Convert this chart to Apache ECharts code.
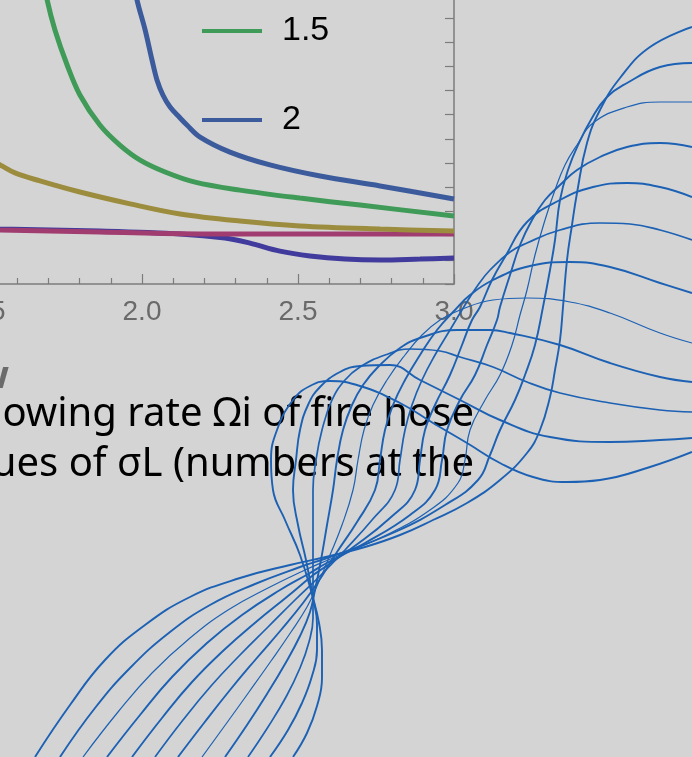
<!DOCTYPE html>
<html><head><meta charset="utf-8">
<script src="https://cdn.jsdelivr.net/npm/echarts@6/dist/echarts.min.js"></script>
<style>html,body{margin:0;padding:0;background:#d4d4d4;overflow:hidden}#c{width:692px;height:757px}</style>
</head><body><div id="c"></div>
<script>
// ---- inset chart data (x = wavenumber-like axis, y = growth rate, arbitrary units) ----
const legendNames = ['0', '0.5', '1', '1.5', '2'];
const seriesColors = ['#403b9c', '#a03c70', '#9c8c3e', '#3f9b57', '#3c5b9c'];
const xTickValues = [1.0, 1.5, 2.0, 2.5, 3.0];

const curve0   = [[1.449,0.231],[1.545,0.227],[1.865,0.219],[2.122,0.207],[2.266,0.190],[2.346,0.169],[2.442,0.136],[2.538,0.116],[2.651,0.103],[2.763,0.099],[2.891,0.103],[3.0,0.107]];
const curve0_5 = [[1.449,0.227],[1.545,0.223],[1.865,0.215],[2.186,0.207],[2.506,0.207],[3.0,0.207]];
const curve1   = [[1.449,0.554],[1.545,0.492],[1.593,0.459],[1.673,0.426],[1.801,0.380],[1.962,0.331],[2.122,0.289],[2.314,0.260],[2.506,0.240],[2.763,0.227],[3.0,0.219]];
const curve1_5 = [[1.686,1.256],[1.696,1.174],[1.721,1.050],[1.760,0.905],[1.801,0.781],[1.865,0.657],[1.929,0.574],[1.994,0.512],[2.074,0.463],[2.170,0.421],[2.314,0.388],[2.506,0.355],[2.699,0.326],[3.0,0.281]];
const curve2   = [[1.974,1.256],[1.984,1.174],[2.010,1.050],[2.032,0.926],[2.048,0.843],[2.067,0.781],[2.090,0.731],[2.122,0.686],[2.144,0.657],[2.186,0.607],[2.282,0.545],[2.410,0.492],[2.571,0.446],[2.763,0.405],[3.0,0.351]];
const chartCurves = [curve0, curve0_5, curve1, curve1_5, curve2];

// ---- caption text ----
const headingTail = 'w';
const captionLines = ['owing rate \u03A9i of fire hose', 'ues of \u03C3L (numbers at the'];

// ---- decorative twisted-hose mesh (page units: 0..692 across, 0..757 down) ----
const hoseA = [[35,757],[70,705],[105,660],[145,625],[190,597],[240,578],[290,565],[330,556],[365,547],[400,535],[433,520],[467,503],[500,480],[527,453],[540,430],[550,397],[555,370],[560,340],[563,307],[567,260],[572,225],[577,193],[587,143],[600,110],[620,78],[650,47],[692,27]];
const hoseB = [[60,757],[95,708],[130,668],[170,632],[210,605],[255,584],[300,567],[330,557],[395,532],[445,505],[478,480],[490,455],[500,430],[515,400],[525,375],[535,345],[543,307],[550,270],[555,240],[560,200],[568,170],[578,145],[592,118],[607,97],[627,83],[660,67],[692,63]];
const hoseC = [[83,757],[118,712],[152,673],[190,638],[228,610],[268,588],[305,570],[328,560],[380,538],[430,510],[458,483],[465,460],[470,430],[485,400],[500,375],[512,345],[520,315],[527,290],[535,255],[545,220],[555,190],[565,165],[577,145],[593,123],[627,107],[660,102],[692,102]];
const hoseD = [[107,757],[140,715],[172,677],[207,643],[242,615],[280,590],[310,573],[325,564],[365,543],[410,515],[435,490],[442,460],[447,430],[460,400],[475,375],[487,345],[497,320],[500,307],[510,275],[520,245],[532,220],[545,200],[560,185],[577,170],[600,157],[627,147],[660,143],[692,147]];
const hoseE = [[132,757],[162,718],[192,682],[224,650],[256,622],[288,596],[312,576],[322,569],[352,548],[390,518],[415,490],[420,460],[425,430],[435,405],[450,375],[462,345],[472,320],[480,307],[492,280],[505,257],[527,222],[560,200],[593,187],[627,183],[660,187],[692,197]];
const hoseF = [[155,757],[183,720],[211,686],[240,655],[268,627],[295,600],[320,576],[345,550],[372,520],[395,490],[400,460],[405,430],[412,405],[422,380],[435,355],[450,330],[465,305],[478,285],[490,270],[510,252],[527,243],[560,230],[600,223],[630,224],[660,230],[692,240]];
const hoseG = [[178,757],[204,723],[230,690],[256,659],[281,630],[303,603],[318,582],[337,552],[357,522],[375,490],[380,460],[385,430],[393,405],[405,380],[420,355],[437,330],[455,310],[470,295],[493,280],[530,266],[570,262],[610,267],[660,283],[692,293]];
const hoseH = [[202,757],[226,724],[249,692],[271,661],[291,632],[307,607],[317,586],[330,555],[342,525],[353,490],[358,460],[364,430],[373,405],[387,380],[405,355],[422,335],[440,320],[460,310],[493,300],[527,298],[570,302],[610,313],[660,333],[692,343]];
const hoseI = [[225,757],[247,725],[267,694],[285,664],[300,636],[310,612],[315,590],[321,560],[327,525],[333,490],[337,460],[343,430],[352,405],[363,385],[378,367],[400,348],[423,337],[457,330],[490,330],[510,333],[560,345],[610,363],[660,377],[692,382]];
const hoseJ = [[248,757],[268,727],[286,697],[300,668],[309,642],[313,618],[313,596],[313,560],[313,525],[313,490],[316,460],[322,430],[332,400],[345,380],[360,367],[385,355],[410,349],[440,351],[460,357],[493,367],[527,382],[560,393],[610,403],[660,410],[692,412]];
const hoseK = [[270,757],[288,730],[302,703],[312,676],[317,650],[317,624],[313,598],[306,560],[298,525],[293,490],[296,460],[300,430],[308,405],[320,387],[340,372],[360,366],[390,365],[420,380],[460,400],[500,420],[550,437],[610,442],[660,440],[692,438]];
const hoseL = [[293,757],[307,733],[317,706],[322,678],[322,650],[319,623],[313,598],[300,555],[285,520],[273,490],[271,460],[277,430],[293,400],[310,386],[330,381],[360,386],[400,403],[433,423],[467,443],[500,463],[533,477],[567,482],[600,480],[650,467],[692,452]];
const hoseCurves = [hoseA, hoseB, hoseC, hoseD, hoseE, hoseF, hoseG, hoseH, hoseI, hoseJ, hoseK, hoseL];
const hoseWidths = [1.9, 1.9, 1.2, 1.9, 1.9, 1.7, 1.9, 1.2, 1.9, 1.7, 1.9, 1.9];

const chart = echarts.init(document.getElementById('c'), null, {renderer: 'canvas'});
const axisGrey = '#7c7c7c';

const series = chartCurves.map((d, i) => ({
  name: legendNames[i], type: 'line', data: d, xAxisIndex: 0, yAxisIndex: 0,
  smooth: 0.35, showSymbol: false, symbol: 'none',
  lineStyle: {width: 5, color: seriesColors[i]}, itemStyle: {color: seriesColors[i]}, z: 3
}));
hoseCurves.forEach((d, i) => series.push({
  type: 'line', data: d, xAxisIndex: 1, yAxisIndex: 1, smooth: 0.45,
  showSymbol: false, symbol: 'none', silent: true, clip: false,
  lineStyle: {width: hoseWidths[i], color: '#1c61b4'}, z: 20
}));

chart.setOption({
  backgroundColor: '#d4d4d4',
  animation: false,
  grid: [
    {left: -170, right: 238, top: -200, bottom: 473, containLabel: false, outerBoundsMode: 'none'},
    {left: 0, right: 0, top: 0, bottom: 0, outerBoundsMode: 'none'}
  ],
  xAxis: [
    {type: 'value', gridIndex: 0, min: 1.0, max: 3.0, interval: 0.5,
     axisLine: {show: true, onZero: false, lineStyle: {color: axisGrey, width: 1.5}},
     axisTick: {show: true, inside: true, length: 10, lineStyle: {color: axisGrey, width: 1.2}},
     minorTick: {show: true, splitNumber: 5, length: 6, lineStyle: {color: axisGrey, width: 1.2}},
     splitLine: {show: false},
     axisLabel: {color: '#6a6a6a', fontSize: 28, fontFamily: 'Liberation Sans', margin: 14,
       formatter: v => (xTickValues.indexOf(v) >= 0 ? v.toFixed(1) : '')}},
    {type: 'value', gridIndex: 1, min: 0, max: 692, show: false}
  ],
  yAxis: [
    {type: 'value', gridIndex: 0, position: 'right', min: 0, max: 2.0, interval: 0.1,
     axisLine: {show: true, onZero: false, lineStyle: {color: axisGrey, width: 1.5}},
     axisTick: {show: true, inside: true, length: 9, lineStyle: {color: axisGrey, width: 1.2}},
     axisLabel: {show: false}, splitLine: {show: false}},
    {type: 'value', gridIndex: 1, min: 0, max: 757, inverse: true, show: false}
  ],
  legend: {
    data: legendNames, orient: 'vertical', left: 202, top: -256, padding: 0,
    itemWidth: 60, itemHeight: 4, itemGap: 49, icon: 'rect', selectedMode: false,
    textStyle: {fontSize: 34, fontFamily: 'Liberation Sans', color: '#000', lineHeight: 40, padding: [0, 0, 0, 15]}
  },
  graphic: [
    {type: 'text', z: 5, style: {text: headingTail, x: 9, y: 377, align: 'right', verticalAlign: 'middle',
      font: 'bold 38px "Noto Sans"', fill: '#6b6b6b'}},
    {type: 'text', z: 5, style: {text: captionLines[0], x: 474, y: 415, align: 'right', verticalAlign: 'middle',
      font: '40px "Noto Sans"', fill: '#000'}},
    {type: 'text', z: 5, style: {text: captionLines[1], x: 474, y: 465, align: 'right', verticalAlign: 'middle',
      font: '40px "Noto Sans"', fill: '#000'}}
  ],
  series: series
});
</script>
</body></html>
